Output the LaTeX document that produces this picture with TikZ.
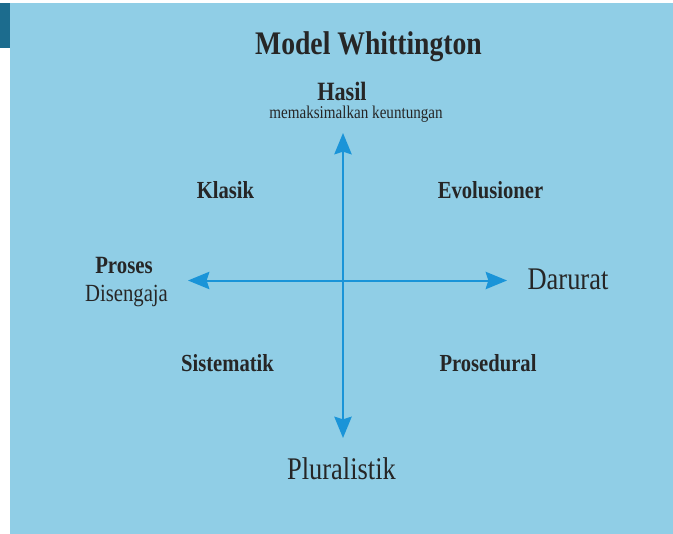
\documentclass[tikz,border=0pt]{standalone}
\usepackage{fontspec}
\setmainfont[FakeStretch=0.84]{Liberation Serif}
\usetikzlibrary{arrows.meta}
\definecolor{panelbg}{HTML}{90CEE6}
\definecolor{tabteal}{HTML}{1C6C8E}
\definecolor{axisblue}{HTML}{1A94D8}
\definecolor{ink}{HTML}{262626}
\newcommand{\fsz}[1]{\fontsize{#1}{#1}\selectfont}
\tikzset{
  lbl/.style={text=ink, inner sep=0pt, anchor=base},
  heading/.style={lbl, font=\bfseries\fsz{24.7}},
  quad/.style={lbl, font=\bfseries\fsz{18.4}},
  bigword/.style={lbl, font=\fsz{23.6}},
  midword/.style={lbl, font=\fsz{18.5}},
  smallword/.style={lbl, font=\fsz{13.5}},
  axis/.style={draw=axisblue, line width=1.5pt,
    arrows={Stealth[length=16pt, width=13pt, inset=2pt]-Stealth[length=16pt, width=13pt, inset=2pt]}}
}
\begin{document}
\begin{tikzpicture}[x=0.75pt, y=-0.75pt]
  \useasboundingbox (0,0) rectangle (673,534);
  % page panel and corner tab
  \fill[white] (0,0) rectangle (673,534);
  \fill[panelbg] (9.5,3) rectangle (673,534);
  \fill[tabteal] (0,3) rectangle (9.5,48);

  % title
  \node[heading] (title) at (368.5,55) {Model Whittington};

  % axis end labels
  \node[lbl, font=\bfseries\fsz{19.8}] (hasil) at (342,101) {Hasil};
  \node[smallword] (hasilsub) at (356,119) {memaksimalkan keuntungan};
  \node[lbl, font=\bfseries\fsz{18.6}] (proses) at (124,273) {Proses};
  \node[midword] (disengaja) at (126.5,301) {Disengaja};
  \node[bigword] (darurat) at (568,289) {Darurat};
  \node[bigword] (pluralistik) at (341.5,479) {Pluralistik};

  % quadrant labels
  \node[quad] (klasik) at (225.5,199) {Klasik};
  \node[quad] (evolusioner) at (490.5,198.5) {Evolusioner};
  \node[quad] (sistematik) at (227.5,371) {Sistematik};
  \node[quad] (prosedural) at (488,371) {Prosedural};

  % axes
  \coordinate (top) at (343,133);
  \coordinate (bottom) at (343,438);
  \coordinate (left) at (188,280.5);
  \coordinate (right) at (507,280.5);
  \draw[axis] (top) -- (bottom);
  \draw[axis] (left) -- (right);
\end{tikzpicture}
\end{document}
